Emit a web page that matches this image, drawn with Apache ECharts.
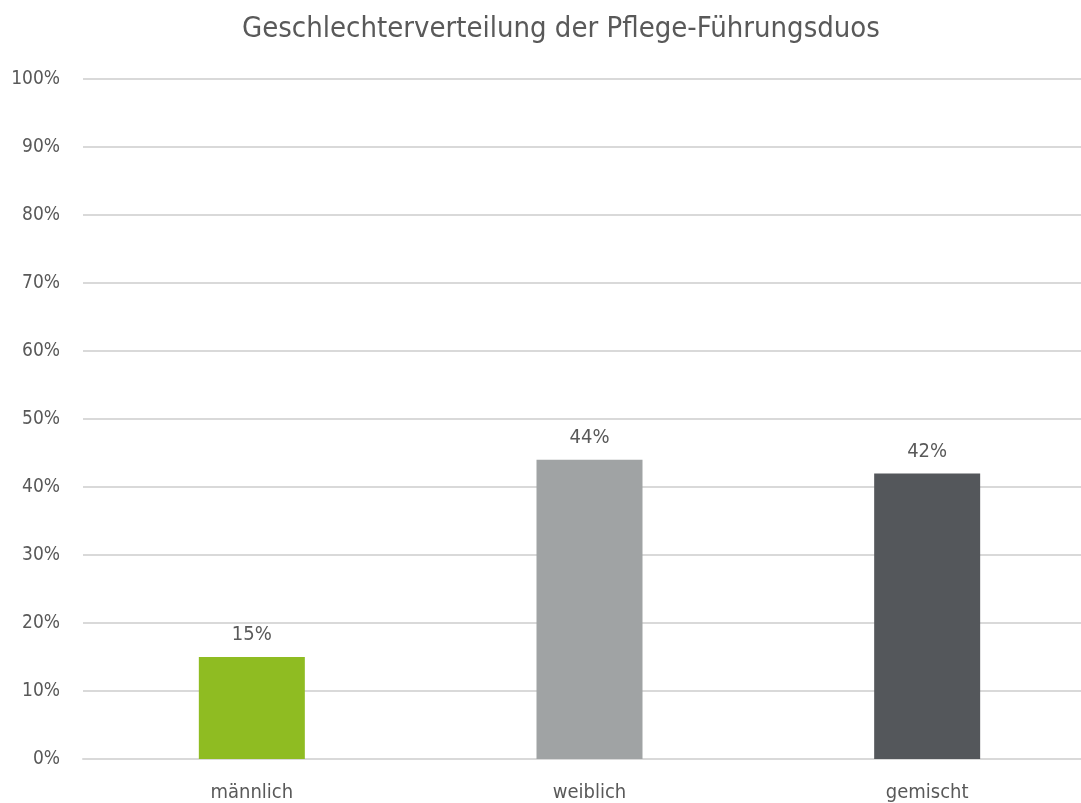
<!DOCTYPE html>
<html><head><meta charset="utf-8">
<script src="https://cdn.jsdelivr.net/npm/echarts@6/dist/echarts.min.js"></script>
<style>html,body{margin:0;padding:0;background:#fff;overflow:hidden}#c{width:1096px;height:803px}</style>
</head><body><div id="c"></div>
<script>
const categories = ['männlich', 'weiblich', 'gemischt'];
const values = [15, 44, 42];
const barColors = ['#8FBC22', '#A0A3A4', '#54575B'];
const yTicks = [0, 10, 20, 30, 40, 50, 60, 70, 80, 90, 100];

const FONT = '"DejaVu Sans Condensed", "Roboto", sans-serif';
const chart = echarts.init(document.getElementById('c'));
chart.setOption({
  animation: false,
  title: {
    text: 'Geschlechterverteilung der Pflege-Führungsduos',
    left: 242, top: 15, padding: 0,
    textStyle: { fontFamily: FONT, fontSize: 29, fontWeight: 'normal', color: '#595959' }
  },
  grid: { left: 83, right: 0, top: 79, bottom: 44 },
  xAxis: {
    type: 'category', data: categories,
    axisLine: { show: true, lineStyle: { color: '#D9D9D9', width: 2 } },
    axisTick: { show: false },
    axisLabel: { fontFamily: FONT, fontSize: 20, color: '#595959', margin: 24 }
  },
  yAxis: {
    type: 'value', min: 0, max: 100, interval: 10,
    axisLine: { show: false }, axisTick: { show: false },
    splitLine: { lineStyle: { color: '#D9D9D9', width: 2 } },
    axisLabel: {
      fontFamily: FONT, fontSize: 19, color: '#595959', margin: 23,
      formatter: v => yTicks.includes(v) ? v + '%' : ''
    }
  },
  series: [{
    type: 'bar',
    data: values.map((v, i) => ({ value: v, itemStyle: { color: barColors[i] } })),
    barWidth: 106,
    label: {
      show: true, position: 'top', distance: 12,
      fontFamily: FONT, fontSize: 20, color: '#595959',
      formatter: p => p.value + '%'
    }
  }]
});
</script></body></html>
